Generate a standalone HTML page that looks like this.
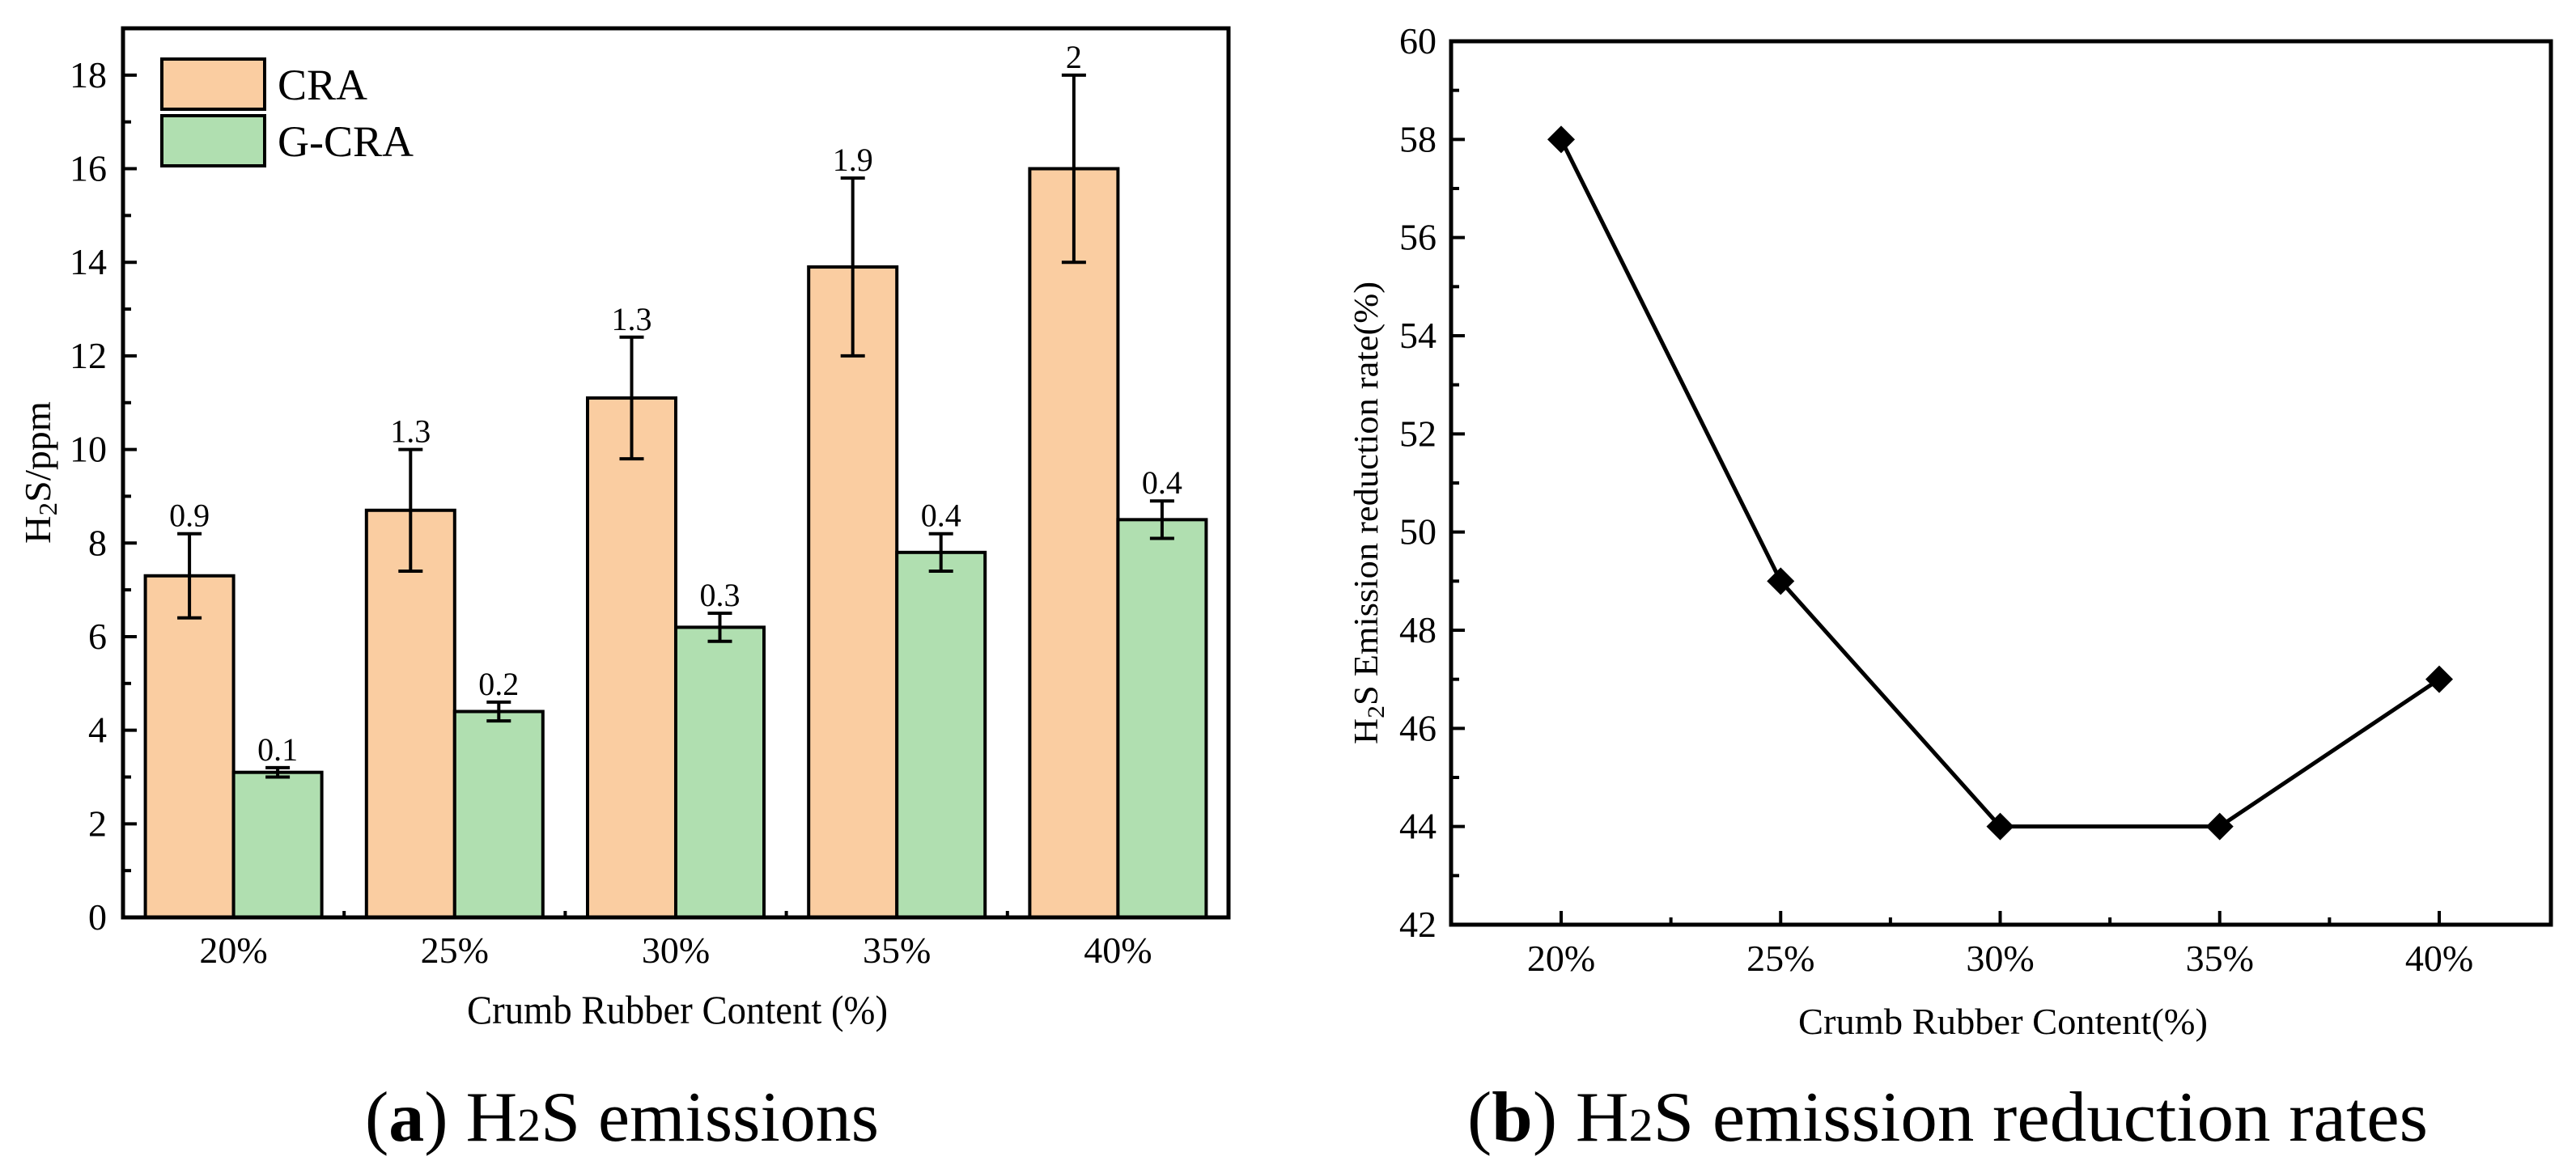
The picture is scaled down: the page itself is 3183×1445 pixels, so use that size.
<!DOCTYPE html>
<html><head><meta charset="utf-8"><style>
html,body{margin:0;padding:0;background:#fff}
svg{display:block;font-family:"Liberation Serif",serif}
</style></head><body>
<svg id="fig" width="3183" height="1445" viewBox="0 0 3183 1445" xmlns="http://www.w3.org/2000/svg">
<g id="chartA"></g>
<g id="chartB"></g>
</svg>
<script>
const categories = ["20%","25%","30%","35%","40%"];
const craValues = [7.3, 8.7, 11.1, 13.9, 16.0];
const craErrors = [0.9, 1.3, 1.3, 1.9, 2.0];
const gcraValues = [3.1, 4.4, 6.2, 7.8, 8.5];
const gcraErrors = [0.1, 0.2, 0.3, 0.4, 0.4];
const yTicksA = [0,2,4,6,8,10,12,14,16,18];
const rateValues = [58, 49, 44, 44, 47];
const yTicksB = [42,44,46,48,50,52,54,56,58,60];

const NS = "http://www.w3.org/2000/svg";
function mk(parent, tag, attrs, text){
  const e = document.createElementNS(NS, tag);
  for (const k in attrs) e.setAttribute(k, attrs[k]);
  if (text !== undefined) e.textContent = text;
  parent.appendChild(e);
  return e;
}

// ---------- Chart A ----------
const A = document.getElementById('chartA');
const aL=152, aR=1518, aT=35, aB=1134, aMin=0, aMax=19;
const ayS = v => aB - (v - aMin) / (aMax - aMin) * (aB - aT);
const aBand = (aR - aL) / categories.length;
const axC = i => aL + aBand * (i + 0.5);
const barW = 109;

yTicksA.forEach(t => {
  const y = ayS(t);
  const tk = mk(A,'line',{x1:aL,x2:aL+17,y1:y,y2:y,stroke:'#000','stroke-width':4});
  
  
  const lb = mk(A,'text',{x:132,y:y+15,'text-anchor':'end','font-size':46},String(t));
  
  
  if (t+1 < aMax) {
    const m = mk(A,'line',{x1:aL,x2:aL+10,y1:ayS(t+1),y2:ayS(t+1),stroke:'#000','stroke-width':4});
    
    
  }
});
for (let i=1;i<categories.length;i++){
  const x = aL + aBand*i;
  const m = mk(A,'line',{x1:x,x2:x,y1:aB,y2:aB-8,stroke:'#000','stroke-width':4});
  
  
}
function drawBar(i, v, err, x0, fill, name){
  const y = ayS(v);
  const r = mk(A,'rect',{x:x0,y:y,width:barW,height:aB-y,fill:fill,stroke:'#000','stroke-width':4});
  
  
  const cx = x0 + barW/2, yt = ayS(v+err), yb = ayS(v-err);
  const eb = mk(A,'path',{d:`M${cx} ${yt}V${yb}M${cx-15} ${yt}H${cx+15}M${cx-15} ${yb}H${cx+15}`,stroke:'#000','stroke-width':4,fill:'none'});
  
  
  const lb = mk(A,'text',{x:cx,y:yt-9,'text-anchor':'middle','font-size':40},String(err));
  
  
}
categories.forEach((c,i) => {
  drawBar(i, craValues[i], craErrors[i], axC(i)-barW, '#FACDA1', 'bar-cra');
  drawBar(i, gcraValues[i], gcraErrors[i], axC(i), '#B0DFB0', 'bar-g-cra');
  const lb = mk(A,'text',{x:axC(i),y:1190,'text-anchor':'middle','font-size':46},c);
  
  
});
const frA = mk(A,'rect',{x:aL,y:aT,width:aR-aL,height:aB-aT,fill:'none',stroke:'#000','stroke-width':5});


// legend
const lg = mk(A,'g',{});


const l1 = mk(lg,'rect',{x:200,y:73,width:127,height:62,fill:'#FACDA1',stroke:'#000','stroke-width':4});


const l2 = mk(lg,'rect',{x:200,y:143,width:127,height:62,fill:'#B0DFB0',stroke:'#000','stroke-width':4});


const t1 = mk(lg,'text',{x:343,y:123,'font-size':54},'CRA');


const t2 = mk(lg,'text',{x:343,y:193,'font-size':54},'G-CRA');


// axis titles
const yta = mk(A,'text',{transform:'translate(62,584) rotate(-90)','text-anchor':'middle','font-size':46,textLength:176,lengthAdjust:'spacingAndGlyphs'});


yta.innerHTML = 'H<tspan font-size="32" dy="8">2</tspan><tspan dy="-8">S/ppm</tspan>';
const xta = mk(A,'text',{x:577,y:1265,'font-size':50,textLength:520,lengthAdjust:'spacingAndGlyphs'},'Crumb Rubber Content (%)');


const capA = mk(A,'text',{x:451,y:1410,'font-size':88,textLength:635,lengthAdjust:'spacingAndGlyphs'});


capA.innerHTML = '(<tspan font-weight="bold">a</tspan>) H<tspan font-size="58">2</tspan>S emissions';

// ---------- Chart B ----------
const B = document.getElementById('chartB');
const bL=1793, bR=3152, bT=51, bB=1143, bMin=42, bMax=60;
const byS = v => bB - (v - bMin)/(bMax - bMin)*(bB - bT);
const bx0 = 1929, bStep = 271.25;
const bxS = i => bx0 + bStep*i;
yTicksB.forEach(t => {
  const y = byS(t);
  const tk = mk(B,'line',{x1:bL,x2:bL+17,y1:y,y2:y,stroke:'#000','stroke-width':4});
  
  
  const lb = mk(B,'text',{x:1775,y:y+15,'text-anchor':'end','font-size':46},String(t));
  
  
  if (t+1 < bMax) {
    const m = mk(B,'line',{x1:bL,x2:bL+10,y1:byS(t+1),y2:byS(t+1),stroke:'#000','stroke-width':4});
    
    
  }
});
categories.forEach((c,i) => {
  const x = bxS(i);
  const tk = mk(B,'line',{x1:x,x2:x,y1:bB,y2:bB-17,stroke:'#000','stroke-width':4});
  
  
  if (i < categories.length-1) {
    const m = mk(B,'line',{x1:x+bStep/2,x2:x+bStep/2,y1:bB,y2:bB-9,stroke:'#000','stroke-width':4});
    
    
  }
  const lb = mk(B,'text',{x:x,y:1200,'text-anchor':'middle','font-size':46},c);
  
  
});
const frB = mk(B,'rect',{x:bL,y:bT,width:bR-bL,height:bB-bT,fill:'none',stroke:'#000','stroke-width':5});


const pts = rateValues.map((v,i)=>bxS(i)+','+byS(v)).join(' ');
const ln = mk(B,'polyline',{points:pts,fill:'none',stroke:'#000','stroke-width':5,'stroke-linejoin':'round'});


rateValues.forEach((v,i) => {
  const x = bxS(i), y = byS(v), d = 17;
  const mkr = mk(B,'polygon',{points:`${x},${y-d} ${x+d},${y} ${x},${y+d} ${x-d},${y}`,fill:'#000'});
  
  
});
const ytb = mk(B,'text',{transform:'translate(1702,634) rotate(-90)','text-anchor':'middle','font-size':42,textLength:572,lengthAdjust:'spacingAndGlyphs'});


ytb.innerHTML = 'H<tspan font-size="30" dy="8">2</tspan><tspan dy="-8">S Emission reduction rate(%)</tspan>';
const xtb = mk(B,'text',{x:2222,y:1278,'font-size':46,textLength:506,lengthAdjust:'spacingAndGlyphs'},'Crumb Rubber Content(%)');


const capB = mk(B,'text',{x:1813,y:1410,'font-size':88,textLength:1187,lengthAdjust:'spacingAndGlyphs'});


capB.innerHTML = '(<tspan font-weight="bold">b</tspan>) H<tspan font-size="58">2</tspan>S emission reduction rates';
</script>
</body></html>
